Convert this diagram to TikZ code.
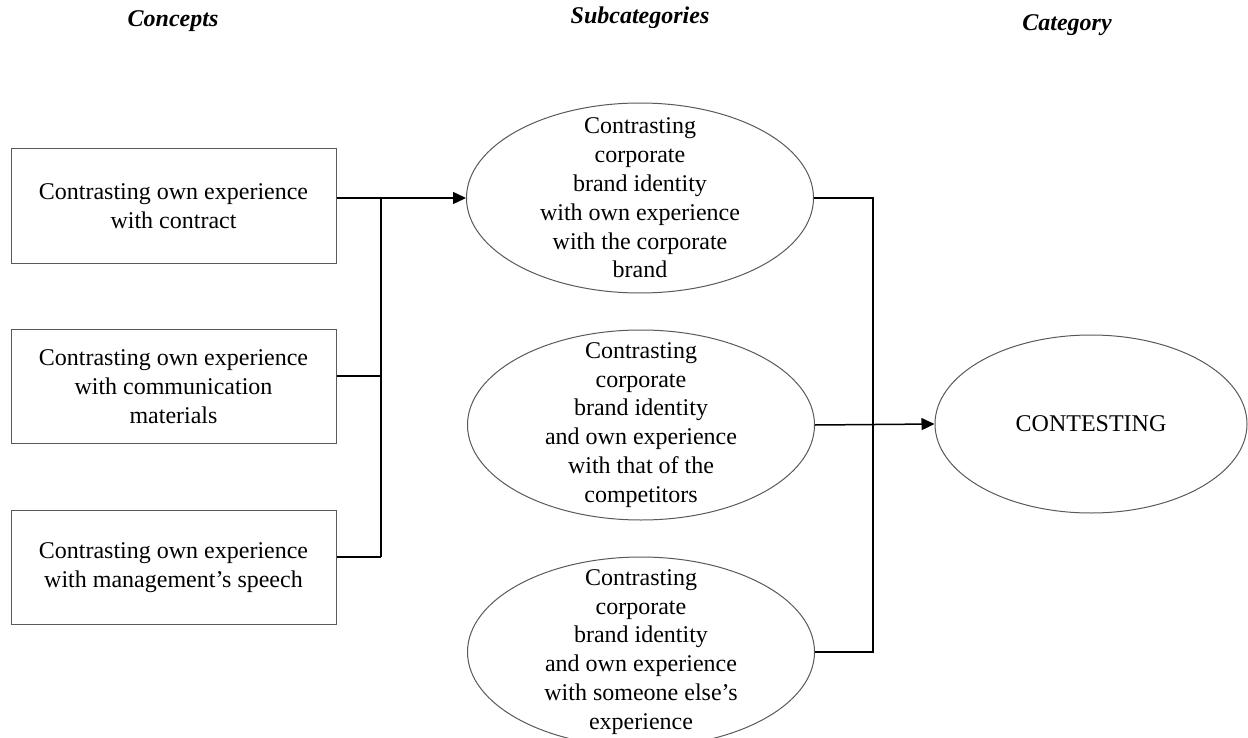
\documentclass[tikz,border=0pt]{standalone}
\usepackage{fontspec}
\setmainfont{Liberation Serif}
\usetikzlibrary{shapes.geometric,arrows.meta}
\begin{document}
\begin{tikzpicture}[x=0.5pt,y=-0.5pt,
  every node/.style={font=\fontsize{12}{14.4}\selectfont},
  head/.style={font=\fontsize{12}{14.4}\selectfont\bfseries\itshape},
  concept/.style={draw=black!65,line width=0.5pt,minimum width=162.5pt,
    minimum height=57pt,inner sep=0pt,align=center},
  subcat/.style={ellipse,draw=black!65,line width=0.5pt,minimum width=173.5pt,
    minimum height=95pt,inner sep=0pt},
  link/.style={line width=0.75pt},
  tip/.style={-{Triangle[length=6.5pt,width=6pt]}}]
\useasboundingbox (0,0) rectangle (1248,738);
\node[head] (hcon) at (173,21) {Concepts};
\node[head] (hsub) at (640,18) {Subcategories};
\node[head] (hcat) at (1067,25) {Category};
\node[concept] (c1) at (173.5,206) {Contrasting own experience\\with contract};
\node[concept] (c2) at (173.5,386.5) {Contrasting own experience\\with communication\\materials};
\node[concept] (c3) at (173.5,567.5) {Contrasting own experience\\with management’s speech};
\node[subcat] (e1) at (640,198) {};
\node[align=center] (t1) at (e1) {Contrasting\\corporate\\brand identity\\with own experience\\with the corporate\\brand};
\node[subcat] (e2) at (641,425) {};
\node[align=center] (t2) at (e2) {Contrasting\\corporate\\brand identity\\and own experience\\with that of the\\competitors};
\node[subcat] (e3) at (641,652) {};
\node[align=center] (t3) at (e3) {Contrasting\\corporate\\brand identity\\and own experience\\with someone else’s\\experience};
\node[ellipse,draw=black!65,line width=0.5pt,minimum width=156pt,minimum height=89pt,
  inner sep=0pt] (cat) at (1091,424) {CONTESTING};
\coordinate (j1) at (381,198);
\coordinate (j2) at (381,376);
\coordinate (j3) at (381,557);
\coordinate (k1) at (873,198);
\coordinate (k3) at (873,652);
\draw[link,tip] (c1.east |- e1.west) -- (e1.west);
\draw[link] (j1) -- (j3);
\draw[link] (c2.east |- j2) -- (j2);
\draw[link] (c3.east |- j3) -- (j3);
\draw[link] (e1.east) -- (k1) -- (k3) -- (e3.east);
\draw[link,tip] (e2.east) -- (cat.west);
\end{tikzpicture}
\end{document}
